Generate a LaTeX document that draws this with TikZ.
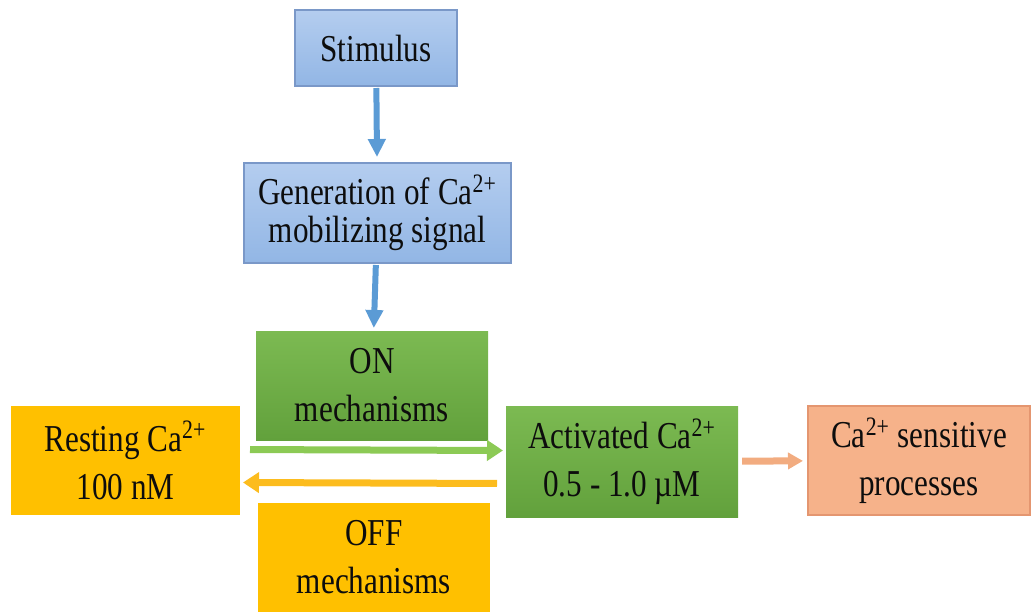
\documentclass[tikz,border=0pt]{standalone}
\usepackage{fontspec}
\setmainfont{Liberation Serif}[FakeStretch=0.82]
\usetikzlibrary{arrows.meta}

\definecolor{blueTop}{RGB}{180,205,239}
\definecolor{blueBot}{RGB}{146,182,229}
\definecolor{blueEdge}{RGB}{122,152,200}
\definecolor{blueArr}{RGB}{91,155,213}
\definecolor{greenTop}{RGB}{124,186,82}
\definecolor{greenBot}{RGB}{98,161,60}
\definecolor{greenArr}{RGB}{140,202,85}
\definecolor{orangeBox}{RGB}{255,192,0}
\definecolor{orangeArr}{RGB}{252,188,30}
\definecolor{pinkBox}{RGB}{246,178,138}
\definecolor{pinkEdge}{RGB}{228,150,112}
\definecolor{pinkArr}{RGB}{242,172,128}

\begin{document}
\begin{tikzpicture}[x=0.5pt,y=-0.5pt,
	box/.style={rectangle,inner sep=0,outer sep=0,align=center,text=black!95,font=\fontsize{19}{24}\selectfont},
	bluebox/.style={box,draw=blueEdge,line width=0.6pt,top color=blueTop,bottom color=blueBot},
	greenbox/.style={box,top color=greenTop,bottom color=greenBot},
	orangebox/.style={box,fill=orangeBox},
	pinkbox/.style={box,draw=pinkEdge,line width=0.6pt,fill=pinkBox},
	down/.style={blueArr,line width=3pt,-{Triangle[width=8.5pt,length=9pt]}},
	flat/.style={line width=3.5pt,-{Triangle[width=10pt,length=8pt]}}]
	\useasboundingbox (0,0) rectangle (1032,611);
	\node[bluebox,minimum width=81pt,minimum height=38pt] (1) at (376,48) {Stimulus};
	\node[bluebox,minimum width=133.5pt,minimum height=50pt,font=\fontsize{19}{19}\selectfont] (2) at (377.5,213) {Generation of Ca\textsuperscript{2+}\\mobilizing signal};
	\node[greenbox,minimum width=116pt,minimum height=54.5pt] (3) at (372,385.5) {ON\\mechanisms};
	\node[orangebox,minimum width=114.5pt,minimum height=54.5pt] (4) at (125.5,460.5) {Resting Ca\textsuperscript{2+}\\100 nM};
	\node[greenbox,minimum width=116pt,minimum height=55.5pt] (5) at (622,461.5) {Activated Ca\textsuperscript{2+}\\0.5 - 1.0 µM};
	\node[pinkbox,minimum width=111pt,minimum height=54.5pt] (6) at (919,460.5) {Ca\textsuperscript{2+} sensitive\\processes};
	\node[orangebox,minimum width=116pt,minimum height=54.5pt] (7) at (374,557.5) {OFF\\mechanisms};
	\draw[down,shorten <=1pt,shorten >=3pt] (1) -- (2);
	\draw[down,shorten <=1pt,shorten >=1.5pt] (2) -- (3);
	\draw[flat,greenArr,shorten <=5pt,shorten >=1.5pt] ([yshift=5.5pt]4.east) -- ([yshift=5.5pt]5.west);
	\draw[flat,orangeArr,shorten <=4.5pt,shorten >=1.5pt] ([yshift=-11pt]5.west) -- ([yshift=-11pt]4.east);
	\draw[flat,pinkArr,shorten <=2pt,shorten >=2.5pt,-{Triangle[width=8pt,length=7.5pt]}] (5) -- (6);
\end{tikzpicture}
\end{document}
